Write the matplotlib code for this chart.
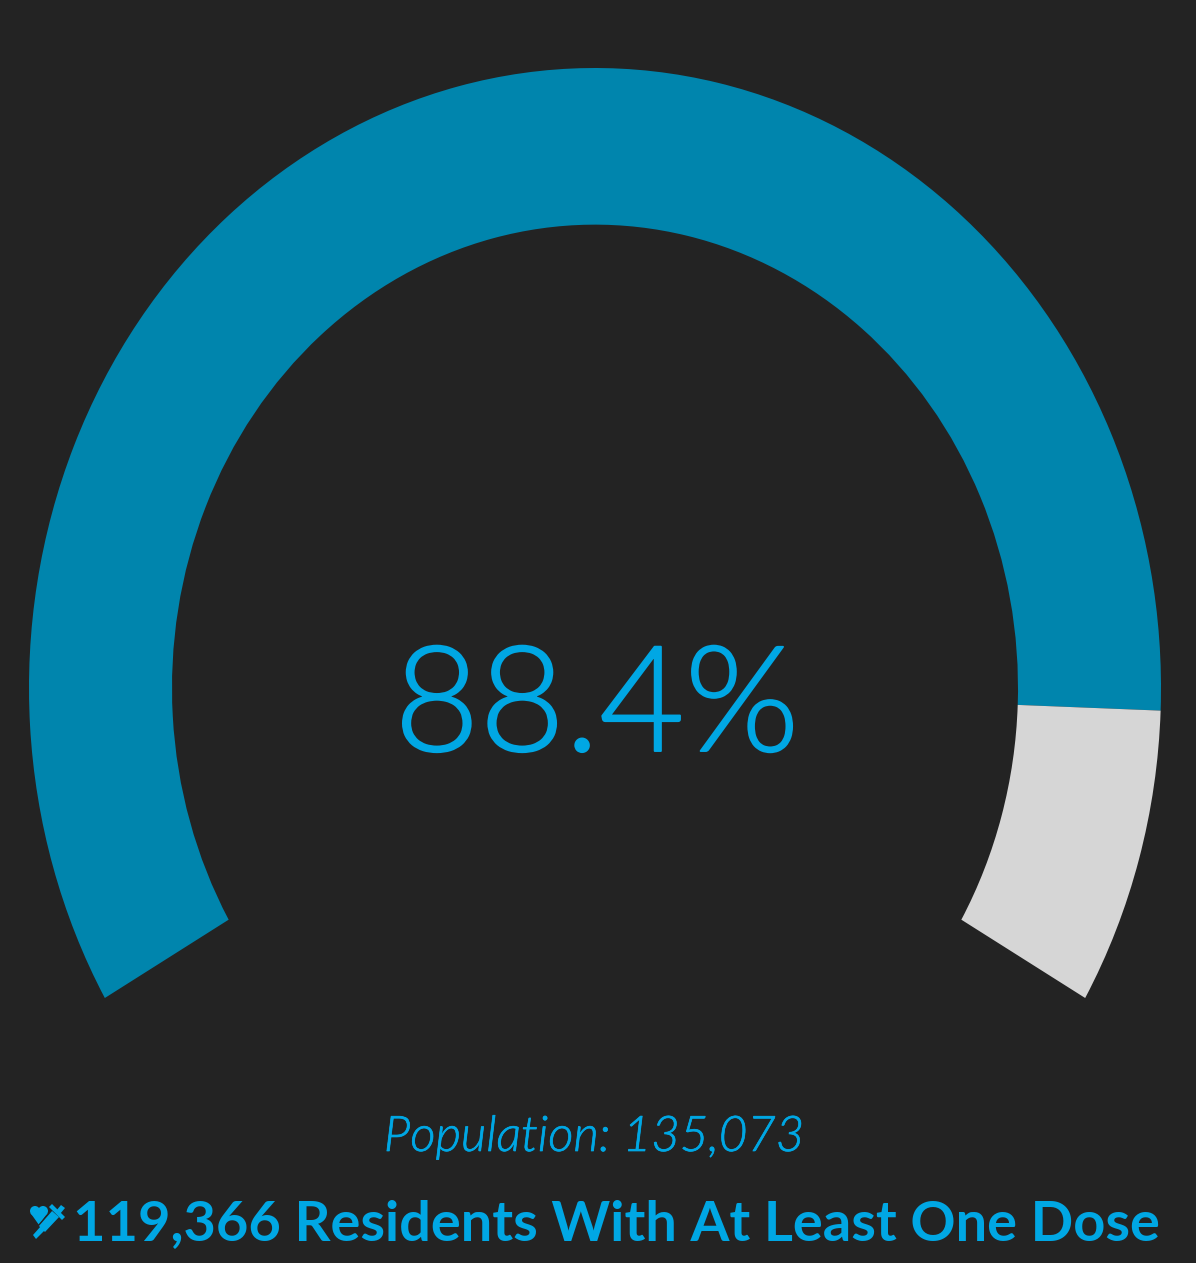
import matplotlib
matplotlib.use("Agg")
import matplotlib.pyplot as plt
import matplotlib.patheffects as pe
from matplotlib.patches import Wedge, Polygon, Circle
from matplotlib.transforms import Affine2D

# data
vaccinated = 119366
population = 135073
value_label = "88.4%"
population_label = "Population: 135,073"
residents_label = "119,366 Residents With At Least One Dose"

# gauge runs from 210 deg down to -30 deg
start_angle = 210
sweep = 240
inner_ratio = 423 / 566

W, H = 1196, 1263
BG = "#232323"
TEAL = "#0085AD"
GREY = "#D6D6D6"
BLUE = "#00A7E4"

fig = plt.figure(figsize=(W / 100, H / 100), dpi=100, facecolor=BG)
ax = fig.add_axes([0, 0, 1, 1])
ax.set_facecolor(BG)
ax.axis("off")

# the picture is stretched a bit, so the unit circle becomes an ellipse
cx, cy, rx, ry = 595, 688, 566, 620
ax.set_xlim((0 - cx) / rx, (W - cx) / rx)
ax.set_ylim((cy - H) / ry, cy / ry)

split = start_angle - sweep * vaccinated / population
ring = 1 - inner_ratio
ax.add_patch(Wedge((0, 0), 1, split, start_angle, width=ring, fc=TEAL, ec="none"))
ax.add_patch(Wedge((0, 0), 1, start_angle - sweep, split, width=ring, fc=GREY, ec="none"))


def px(x, y):
    return (x - cx) / rx, (cy - y) / ry


x, y = px(597, 751)
t = ax.text(x, y, value_label, color=BLUE, fontsize=106, family="Lato", fontweight=300,
            ha="center", va="baseline")
t.set_path_effects([pe.withStroke(linewidth=1.4, foreground=BLUE)])
x, y = px(594, 1151)
t = ax.text(x, y, population_label, color=BLUE, fontsize=35.4, family="Lato", fontweight=300,
            style="italic", ha="center", va="baseline")
t.set_path_effects([pe.withStroke(linewidth=0.5, foreground=BLUE)])
x, y = px(616, 1240)
ax.text(x, y, residents_label, color=BLUE, fontsize=40.3, family="Lato", fontweight="bold",
        ha="center", va="baseline")

# heart + syringe icon next to the last line
pix = Affine2D().scale(1, -1).translate(0, H)
for shape in [
    Circle((35, 1211), 5, fc=BLUE, ec="none", transform=pix),
    Circle((43, 1211), 5, fc=BLUE, ec="none", transform=pix),
    Polygon([(30.5, 1213), (47.5, 1213), (39, 1225)], fc=BLUE, ec="none", transform=pix),
    Polygon([(38, 1226), (52, 1210), (60, 1217), (45, 1233)], fc=BLUE, ec=BG, lw=1.0, transform=pix),
    Polygon([(33, 1235), (41, 1226), (45, 1230), (36, 1239)], fc=BLUE, ec="none", transform=pix),
    Polygon([(49, 1207), (52, 1204), (65, 1217), (62, 1220)], fc=BLUE, ec="none", transform=pix),
    Polygon([(56, 1211), (61, 1205), (65, 1208), (60, 1214)], fc=BLUE, ec="none", transform=pix),
]:
    ax.add_patch(shape)

fig.savefig("out.png", dpi=100, facecolor=BG)
